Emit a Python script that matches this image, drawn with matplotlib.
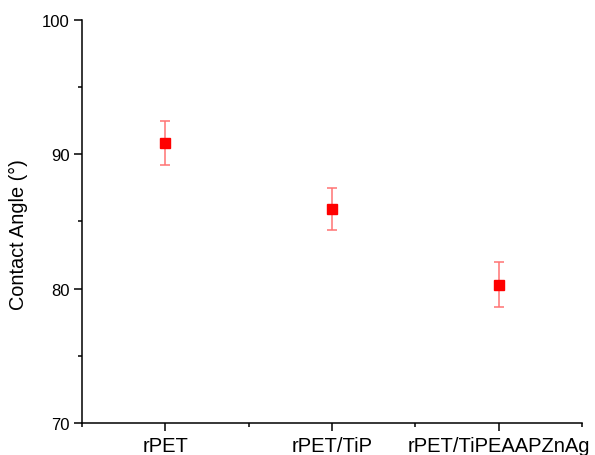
import matplotlib.pyplot as plt
from matplotlib.ticker import MultipleLocator

plt.rcParams['font.family'] = ['Liberation Sans', 'DejaVu Sans']

samples = ["rPET", "rPET/TiP", "rPET/TiPEAAPZnAg"]
angle = [90.8, 85.9, 80.3]
angle_err = [1.65, 1.56, 1.65]

fig = plt.figure(figsize=(5.95, 4.56), dpi=100)
ax = fig.add_axes([0.138, 0.070, 0.840, 0.885])

pos = list(range(1, len(samples) + 1))
ax.errorbar(pos, angle, yerr=angle_err, fmt='none', ecolor=(1, 0.45, 0.45),
            elinewidth=1.1, capsize=3.3, capthick=1.1)
ax.plot(pos, angle, 's', color='red', markersize=6.5, zorder=3)

ax.set_xlim(0.5, 3.5)
ax.set_ylim(70, 100)
ax.set_xticks(pos)
ax.set_xticklabels(samples, fontsize=14.5)
ax.xaxis.set_minor_locator(MultipleLocator(0.5))
ax.yaxis.set_major_locator(MultipleLocator(10))
ax.yaxis.set_minor_locator(MultipleLocator(5))
ax.tick_params(axis='y', which='major', length=6, width=1.1, labelsize=12, pad=3)
ax.tick_params(axis='x', which='major', length=6, width=1.1, pad=3)
ax.tick_params(which='minor', length=3, width=1.1)
ax.set_ylabel("Contact Angle (°)", fontsize=14.3)
ax.yaxis.set_label_coords(-0.108, 0.47)

for s in ['top', 'right']:
    ax.spines[s].set_visible(False)
for s in ['left', 'bottom']:
    ax.spines[s].set_linewidth(1.1)

fig.savefig("out.png", dpi=100)
